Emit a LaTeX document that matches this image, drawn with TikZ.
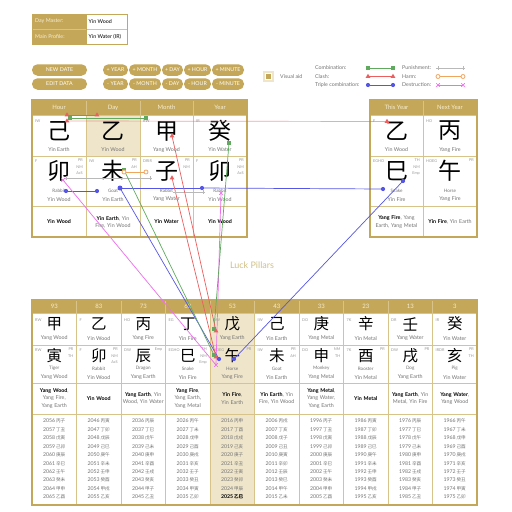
\documentclass[tikz,border=0pt]{standalone}
\usepackage{fontspec}
\setmainfont{Lato}
\newfontfamily\cjk{Noto Sans CJK SC}
\usetikzlibrary{shapes.geometric}

\definecolor{gold}{RGB}{196,167,88}
\definecolor{goldline}{RGB}{216,196,138}
\definecolor{beige}{RGB}{238,229,202}
\definecolor{cream}{RGB}{246,238,214}
\definecolor{lblc}{RGB}{115,115,115}
\definecolor{tagc}{RGB}{150,150,150}
\definecolor{titlec}{RGB}{208,192,135}
\definecolor{cgreen}{RGB}{95,170,95}
\definecolor{cred}{RGB}{235,95,95}
\definecolor{cblue}{RGB}{85,85,230}
\definecolor{corange}{RGB}{240,165,95}
\definecolor{cgray}{RGB}{185,185,185}
\definecolor{cpink}{RGB}{238,110,238}

\newcommand\stemch[1]{\ifcase#1 甲\or 乙\or 丙\or 丁\or 戊\or 己\or 庚\or 辛\or 壬\or 癸\fi}
\newcommand\branchch[1]{\ifcase#1 子\or 丑\or 寅\or 卯\or 辰\or 巳\or 午\or 未\or 申\or 酉\or 戌\or 亥\fi}
\newcommand\hbold[1]{\textcolor{black}{\bfseries #1}}

\tikzset{
  hdr/.style={font=\fontsize{6}{7}\selectfont, text=cream, inner sep=0},
  big/.style={font=\cjk\fontsize{23}{23}\selectfont, inner sep=0},
  mid/.style={font=\cjk\fontsize{15.5}{16}\selectfont, inner sep=0},
  lbl/.style={font=\fontsize{5.3}{6}\selectfont, text=lblc, inner sep=0},
  ani/.style={font=\fontsize{4.6}{5}\selectfont, text=lblc, inner sep=0},
  tag/.style={font=\fontsize{3.8}{6.6}\selectfont, text=tagc, inner sep=0, align=right},
  hid/.style={font=\fontsize{5.3}{7.2}\selectfont, text=lblc, align=center, text width=#1, inner sep=0},
  yl/.style={font=\fontsize{5.2}{6}\selectfont, text=lblc, inner sep=0},
  btn/.style={fill=gold, rounded corners=5.5, text=white, font=\fontsize{5.3}{6}\selectfont, minimum height=11.5, inner sep=0},
  leg/.style={font=\fontsize{5.3}{6}\selectfont, text=lblc, inner sep=0, anchor=west},
  grid/.style={goldline, line width=0.8},
  frame/.style={gold, line width=1.3},
  lg/.style={cgreen, line width=0.7},
  lr/.style={cred, line width=0.7},
  lb/.style={cblue, line width=0.7},
  lo/.style={corange, line width=0.7},
  lp/.style={cgray, line width=0.7},
  lk/.style={cpink, line width=0.7},
  mg/.style={fill=cgreen, rectangle, minimum size=3.2, inner sep=0},
  mr/.style={fill=cred, regular polygon, regular polygon sides=3, minimum size=5.5, inner sep=0},
  mb/.style={fill=cblue, circle, minimum size=4.2, inner sep=0},
  mo/.style={draw=corange, fill=white, circle, minimum size=4, inner sep=0, line width=0.8},
  mp/.style={minimum size=4, inner sep=0, path picture={\draw[cgray,line width=0.8] (path picture bounding box.north) -- (path picture bounding box.south) (path picture bounding box.east) -- (path picture bounding box.west);}},
  mk/.style={minimum size=3.6, inner sep=0, path picture={\draw[cpink,line width=0.7] (path picture bounding box.north west) -- (path picture bounding box.south east) (path picture bounding box.north east) -- (path picture bounding box.south west);}},
}

\begin{document}
\begin{tikzpicture}[x=1pt,y=-1pt]
\useasboundingbox (0,0) rectangle (512,512);
\fill[white] (0,0) rectangle (512,512);

% ---------- Day master box
\fill[gold] (32,14) rectangle (86,44);
\draw[goldline, line width=0.6] (32,29) -- (127,29);
\draw[frame, line width=1] (32,14) rectangle (127,44);
\draw[gold, line width=0.6] (86,14) -- (86,44);
\node[leg, text=cream] (dmk) at (35,21.5) {Day Master:};
\node[leg, text=black] (dmv) at (88.5,21.5) {Yin Wood};
\node[leg, text=cream] (mpk) at (35,37) {Main Profile:};
\node[leg, text=black] (mpv) at (88.5,37) {Yin Water (IR)};

% ---------- buttons
\node[btn, minimum width=55] (bnew) at (59.5,70) {NEW DATE};
\node[btn, minimum width=55] (bedit) at (59.5,84) {EDIT DATA};
\foreach \n/\cx/\w/\t in {y/115.5/25/YEAR, mo/145/32/MONTH, d/172.5/21/DAY, h/197.5/27/HOUR, mi/228/32/MINUTE}{
  \node[btn, minimum width=\w] (bp\n) at (\cx,70) {+ \t};
  \node[btn, minimum width=\w] (bm\n) at (\cx,84) {- \t};
}

% ---------- legend
\node[draw=beige, line width=1.2, fill=white, minimum size=9, inner sep=0] (vbox) at (268.5,76.5) {};
\node[fill=gold, minimum size=5.5, inner sep=0] (vin) at (vbox.center) {};
\node[leg] (vtxt) at (280,77) {Visual aid};
\node[leg] (lt1) at (315,68) {Combination:};
\node[leg] (lt2) at (315,76.5) {Clash:};
\node[leg] (lt3) at (315,85) {Triple combination:};
\node[leg] (lt4) at (402,68) {Punishment:};
\node[leg] (lt5) at (402,76.5) {Harm:};
\node[leg] (lt6) at (402,85) {Destruction:};
\foreach \c/\x/\y in {Lga/368/68,Lgb/393/68,Lra/368/76.5,Lrb/393/76.5,Lba/368/85,Lbb/393/85,
                       Lpa/438/68,Lpb/463/68,Loa/438/76.5,Lob/463/76.5,Lka/438/85,Lkb/463/85}
  \coordinate (\c) at (\x,\y);

% ---------- main chart
\fill[gold] (32,100) rectangle (247,115);
\fill[beige] (86,115) rectangle (140,156);
\fill[gold] (370,100) rectangle (477,115);
\foreach \x in {86,140,193} \draw[grid] (\x,100) -- (\x,237);
\foreach \y in {115,156,206} \draw[grid] (32,\y) -- (247,\y);
\draw[grid] (423,100) -- (423,237);
\foreach \y in {115,156,206} \draw[grid] (370,\y) -- (477,\y);
\draw[frame] (32,100) rectangle (247,237);
\draw[frame] (370,100) rectangle (477,237);

\foreach \n/\xa/\xb/\hd/\st/\sl/\stg/\br/\an/\el/\btl/\btr/\hid in {
  h/32/86/Hour/己/Yin Earth/IW/卯/Rabbit/Yin Wood/F/{PR\\NM\\AcS}/{\hbold{Yin Wood}},
  d/86/140/Day/乙/Yin Wood/{}/未/Goat/Yin Earth/IW/{PR\\AH}/{\hbold{Yin Earth}, Yin Fire, Yin Wood},
  m/140/193/Month/甲/Yang Wood/RW/子/Rabbit/Yang Water/DRIR/{PR\\NM}/{\hbold{Yin Water}},
  y/193/247/Year/癸/Yin Water/IR/卯/Rabbit/Yin Wood/F/{PR\\NM\\AcS}/{\hbold{Yin Wood}},
  t/370/423/This Year/乙/Yin Wood/F/巳/Snake/Yin Fire/EGHO/{TH\\NM\\Emp}/{\hbold{Yang Fire}, Yang Earth, Yang Metal},
  n/423/477/Next Year/丙/Yang Fire/HO/午/Horse/Yang Fire/HOEG/PR/{\hbold{Yin Fire}, Yin Earth}}
{
  \pgfmathsetmacro\cx{(\xa+\xb)/2}
  \node[hdr] (hd\n) at (\cx,107.5) {\hd};
  \node[big] (st\n) at (\cx,131) {\st};
  \node[lbl] (sl\n) at (\cx,150) {\sl};
  \node[tag, anchor=west] (stg\n) at (\xa+3,121) {\stg};
  \node[big] (br\n) at (\cx,171) {\br};
  \node[ani] (an\n) at (\cx,190.5) {\an};
  \node[lbl] (el\n) at (\cx,199.5) {\el};
  \node[tag, anchor=west] (btl\n) at (\xa+3,161) {\btl};
  \node[tag, anchor=north east] (btr\n) at (\xb-3,158.5) {\btr};
  \node[hid=48] (hid\n) at (\cx,222) {\hid};
}

\node[font=\fontsize{9}{10}\selectfont, text=titlec, inner sep=0] (lptitle) at (252,265) {Luck Pillars};

% ---------- luck pillars
\fill[gold] (32,300) rectangle (477,313);
\fill[beige] (210,313) rectangle (254.5,505);
\foreach \k in {1,...,9} \draw[grid] (32+44.5*\k,300) -- (32+44.5*\k,505);
\foreach \y in {313,345,383,414} \draw[grid] (32,\y) -- (477,\y);
\draw[frame] (32,300) rectangle (477,505);

\foreach \i/\ag/\st/\sl/\stg/\br/\an/\el/\btl/\btr/\hid in {
  0/93/甲/Yang Wood/RW/寅/Tiger/Yang Wood/RW/{PR\\TH}/{\hbold{Yang Wood}, Yang Fire, Yang Earth},
  1/83/乙/Yin Wood/F/卯/Rabbit/Yin Wood/F/{PR\\NM\\AcS}/{\hbold{Yin Wood}},
  2/73/丙/Yang Fire/HO/辰/Dragon/Yang Earth/DW/Emp/{\hbold{Yang Earth}, Yin Wood, Yin Water},
  3/63/丁/Yin Fire/EG/巳/Snake/Yin Fire/EGHO/{TH\\NM\\Emp}/{\hbold{Yang Fire}, Yang Earth, Yang Metal},
  4/53/戊/Yang Earth/DW/午/Horse/Yang Fire/HOEG/PR/{\hbold{Yin Fire}, Yin Earth},
  5/43/己/Yin Earth/IW/未/Goat/Yin Earth/IW/{PR\\AH}/{\hbold{Yin Earth}, Yin Fire, Yin Wood},
  6/33/庚/Yang Metal/DO/申/Monkey/Yang Metal/DO/{NM\\TH}/{\hbold{Yang Metal}, Yang Water, Yang Earth},
  7/23/辛/Yin Metal/7K/酉/Rooster/Yin Metal/7K/PR/{\hbold{Yin Metal}},
  8/13/壬/Yang Water/DR/戌/Dog/Yang Earth/DW/PR/{\hbold{Yang Earth}, Yin Metal, Yin Fire},
  9/3/癸/Yin Water/IR/亥/Pig/Yin Water/IRDR/{PR\\TH}/{\hbold{Yang Water}, Yang Wood}}
{
  \pgfmathsetmacro\xa{32+44.5*\i}
  \pgfmathsetmacro\cx{\xa+22.25}
  \pgfmathsetmacro\xb{\xa+44.5}
  \node[hdr] (lh\i) at (\cx,306.5) {\ag};
  \node[mid] (ls\i) at (\cx,324) {\st};
  \node[lbl] (lsl\i) at (\cx,338.5) {\sl};
  \node[tag, anchor=west] (lstg\i) at (\xa+3,320) {\stg};
  \node[mid] (lb\i) at (\cx,356) {\br};
  \node[ani] (lan\i) at (\cx,368.5) {\an};
  \node[lbl] (lel\i) at (\cx,377.5) {\el};
  \node[tag, anchor=west] (lbtl\i) at (\xa+3,350) {\btl};
  \node[tag, anchor=north east] (lbtr\i) at (\xb-3,347.5) {\btr};
  \node[hid=41] (lhid\i) at (\cx,398.5) {\hid};
}

\foreach \i in {0,...,9}{
  \foreach \r in {0,...,9}{
    \pgfmathtruncatemacro\yr{2056-10*\i+\r}
    \pgfmathtruncatemacro\s{mod(\yr-4,10)}
    \pgfmathtruncatemacro\b{mod(\yr-4,12)}
    \node[yl] (yr\i-\r) at ({32+44.5*\i+22.25},{421+8.45*\r})
      {\ifnum\yr=2025 \color{black}\bfseries\fi\yr\,{\cjk\fontsize{4.6}{5}\selectfont\stemch{\s}\branchch{\b}}};
  }
}

% ---------- connector end points
\coordinate (g1a) at (70,118);  \coordinate (g1b) at (146,118);
\coordinate (g2a) at (229,143); \coordinate (g2b) at (214,329);
\coordinate (g3a) at (124,170); \coordinate (g3b) at (214,355);
\coordinate (r1a) at (67,115);  \coordinate (r1b) at (97,115);
\coordinate (r2a) at (67,121);  \coordinate (r2b) at (387,121.5);
\coordinate (r3a) at (172,136); \coordinate (r3b) at (216,331);
\coordinate (r4a) at (172,178); \coordinate (r4b) at (216,357);
\coordinate (o1a) at (124,172); \coordinate (o1b) at (146,172);
\coordinate (p1a) at (66,178);  \coordinate (p1b) at (150,178);
\coordinate (p2a) at (175,192); \coordinate (p2b) at (203,192);
\coordinate (b1a) at (66,191);  \coordinate (b1b) at (97,191);
\coordinate (b2a) at (120,188); \coordinate (b2b) at (202,188); \coordinate (b2c) at (383,189);
\coordinate (b3)  at (219,359);
\coordinate (b4a) at (403,181); \coordinate (b4b) at (234,359);
\coordinate (k1a) at (63,180);  \coordinate (k1b) at (216,365);
\coordinate (k2a) at (221,193);

% ---------- connectors
\draw[lg] (Lga) -- (Lgb);
\draw[lr] (Lra) -- (Lrb);
\draw[lb] (Lba) -- (Lbb);
\draw[lp] (Lpa) -- (Lpb);
\draw[lo] (Loa) -- (Lob);
\draw[lk] (Lka) -- (Lkb);

\draw[lr, draw opacity=0.55] (r2a) -- (r2b);
\draw[lg] (g1a) -- (g1b);
\draw[lr] (r1a) -- (r1b);
\draw[lp] (p1a) -- (p1b);
\draw[lp] (p2a) -- (p2b);
\draw[lo] (o1a) -- (o1b);
\draw[lb] (b1a) -- (b1b);
\draw[lb] (b2a) -- (b2b);
\draw[lb] (b2b) -- (b2c);
\draw[lk] (k1a) -- (k1b);
\draw[lk] (k2a) -- (k1b);
\draw[lb] (b2a) -- (b3);
\draw[lg] (g3a) -- (g3b);
\draw[lg] (g2a) -- (g2b);
\draw[lr] (r3a) -- (r3b);
\draw[lr] (r4a) -- (r4b);
\draw[lb] (b4a) -- (b4b);

% ---------- markers
\foreach \c in {Lga,Lgb,g1a,g1b,g2a,g2b,g3a,g3b} \node[mg] (m\c) at (\c) {};
\foreach \c in {Lra,Lrb,r1a,r1b,r2a,r2b,r3a,r3b,r4a,r4b} \node[mr] (m\c) at (\c) {};
\foreach \c in {Lba,Lbb,b1a,b1b,b2b,b2c,b3,b4a,b4b} \node[mb] (m\c) at (\c) {};
\node[mb, minimum size=5] (mb2a) at (b2a) {};
\foreach \c in {Loa,Lob,o1a,o1b} \node[mo] (m\c) at (\c) {};
\foreach \c in {Lpa,Lpb,p1a,p1b,p2a,p2b} \node[mp] (m\c) at (\c) {};
\foreach \c in {Lka,Lkb,k1a,k1b,k2a} \node[mk] (m\c) at (\c) {};
\end{tikzpicture}
\end{document}
